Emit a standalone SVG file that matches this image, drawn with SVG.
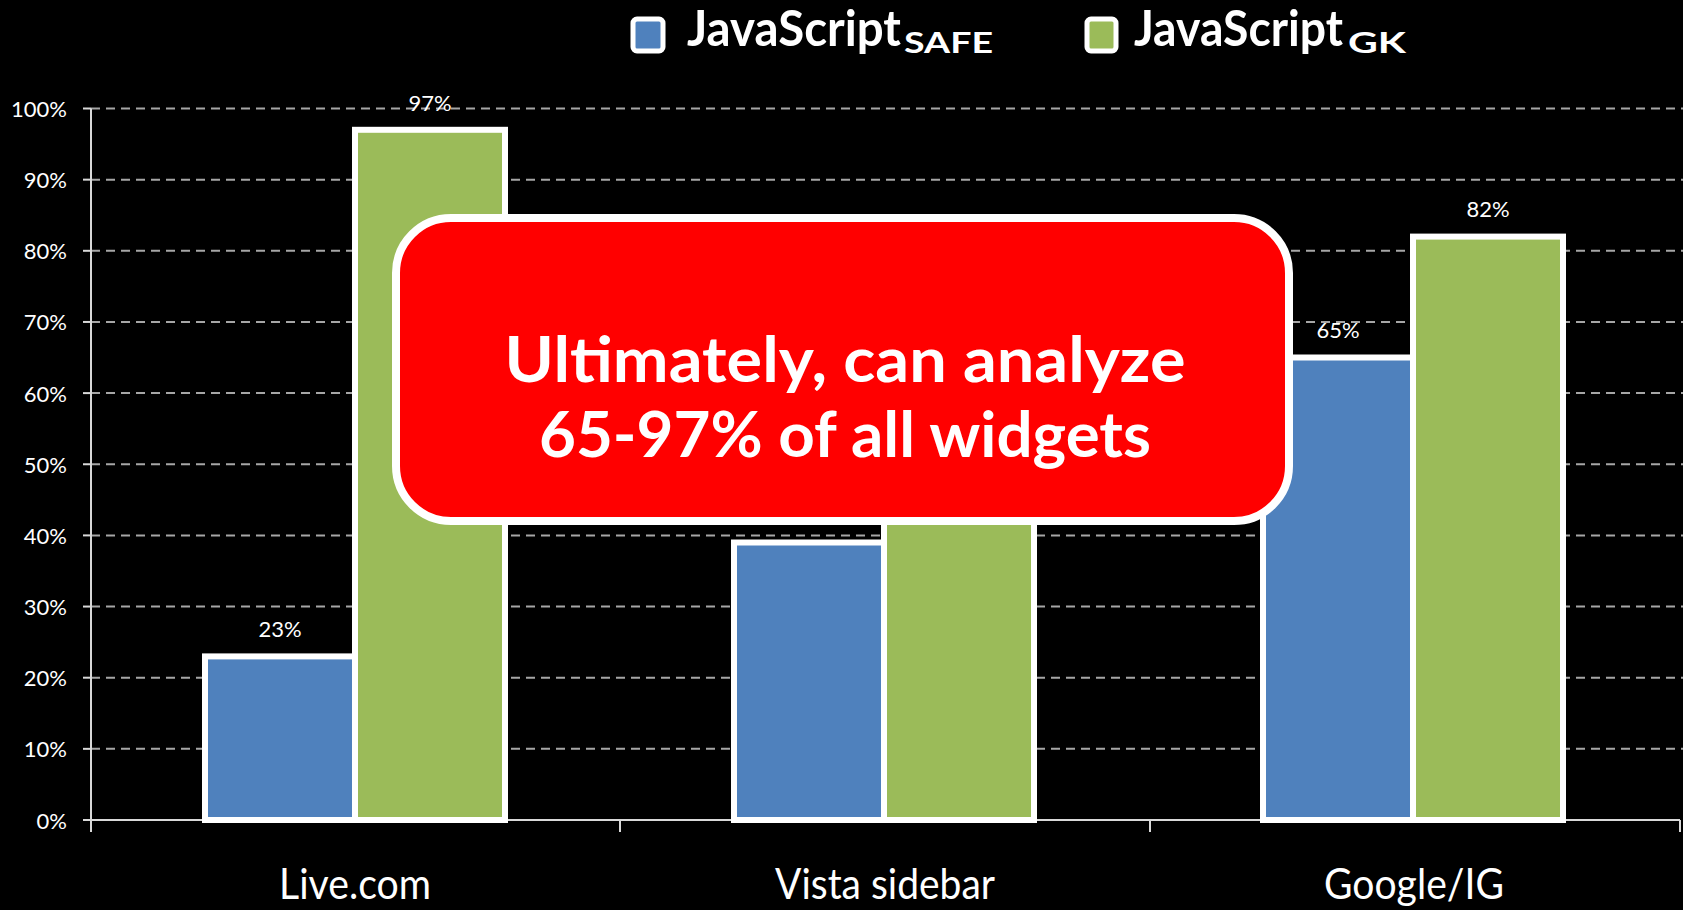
<svg xmlns="http://www.w3.org/2000/svg" width="1683" height="910" viewBox="0 0 1683 910">
  <style>
    .grid { stroke: #A6A6A6; stroke-width: 2; stroke-dasharray: 9 6; fill: none; }
    .axis { stroke: #D9D9D9; stroke-width: 2; fill: none; }
    .ylab { font-family: Lato, "Liberation Sans", sans-serif; font-size: 22px; fill: #FFFFFF; text-anchor: end; dominant-baseline: central; }
    .val { font-family: Lato, "Liberation Sans", sans-serif; font-size: 22px; fill: #FFFFFF; text-anchor: middle; }
    .cat { font-family: Lato, "Liberation Sans", sans-serif; font-size: 42px; fill: #FFFFFF; text-anchor: middle; }
    .blue { fill: #4F81BD; stroke: #FFFFFF; stroke-width: 6; }
    .green { fill: #9BBB59; stroke: #FFFFFF; stroke-width: 6; }
    .leg { font-family: Lato, "Liberation Sans", sans-serif; font-weight: bold; fill: #FFFFFF; font-size: 50px; }
    .sub { font-family: Lato, "Liberation Sans", sans-serif; font-weight: bold; fill: #FFFFFF; font-size: 29px; }
    .call { font-family: Lato, "Liberation Sans", sans-serif; font-weight: bold; font-size: 63px; fill: #FFFFFF; text-anchor: middle; }
  </style>
  <rect x="0" y="0" width="1683" height="910" fill="#000000"/>

  <g id="gridlines">
    <line class="grid" x1="91" y1="108.5" x2="1683" y2="108.5"/>
    <line class="grid" x1="91" y1="179.65" x2="1683" y2="179.65"/>
    <line class="grid" x1="91" y1="250.8" x2="1683" y2="250.8"/>
    <line class="grid" x1="91" y1="321.95" x2="1683" y2="321.95"/>
    <line class="grid" x1="91" y1="393.1" x2="1683" y2="393.1"/>
    <line class="grid" x1="91" y1="464.25" x2="1683" y2="464.25"/>
    <line class="grid" x1="91" y1="535.4" x2="1683" y2="535.4"/>
    <line class="grid" x1="91" y1="606.55" x2="1683" y2="606.55"/>
    <line class="grid" x1="91" y1="677.7" x2="1683" y2="677.7"/>
    <line class="grid" x1="91" y1="748.85" x2="1683" y2="748.85"/>
  </g>

  <g id="axes">
    <line class="axis" x1="91" y1="108.5" x2="91" y2="832"/>
    <line class="axis" x1="83" y1="820" x2="1680" y2="820"/>
    <line class="axis" x1="620" y1="820" x2="620" y2="832"/>
    <line class="axis" x1="1150" y1="820" x2="1150" y2="832"/>
    <line class="axis" x1="1680" y1="820" x2="1680" y2="832"/>
    <line class="axis" x1="83" y1="108.5" x2="91" y2="108.5"/>
    <line class="axis" x1="83" y1="179.65" x2="91" y2="179.65"/>
    <line class="axis" x1="83" y1="250.8" x2="91" y2="250.8"/>
    <line class="axis" x1="83" y1="321.95" x2="91" y2="321.95"/>
    <line class="axis" x1="83" y1="393.1" x2="91" y2="393.1"/>
    <line class="axis" x1="83" y1="464.25" x2="91" y2="464.25"/>
    <line class="axis" x1="83" y1="535.4" x2="91" y2="535.4"/>
    <line class="axis" x1="83" y1="606.55" x2="91" y2="606.55"/>
    <line class="axis" x1="83" y1="677.7" x2="91" y2="677.7"/>
    <line class="axis" x1="83" y1="748.85" x2="91" y2="748.85"/>
  </g>

  <g id="y-labels">
    <text class="ylab" x="67" y="108.5">100%</text>
    <text class="ylab" x="67" y="179.65">90%</text>
    <text class="ylab" x="67" y="250.8">80%</text>
    <text class="ylab" x="67" y="321.95">70%</text>
    <text class="ylab" x="67" y="393.1">60%</text>
    <text class="ylab" x="67" y="464.25">50%</text>
    <text class="ylab" x="67" y="535.4">40%</text>
    <text class="ylab" x="67" y="606.55">30%</text>
    <text class="ylab" x="67" y="677.7">20%</text>
    <text class="ylab" x="67" y="748.85">10%</text>
    <text class="ylab" x="67" y="820">0%</text>
  </g>

  <g id="bars-live">
    <rect class="blue" x="205" y="656.4" width="150" height="163.6"/>
    <rect class="green" x="355" y="129.8" width="150" height="690.2"/>
    <text class="val" x="280" y="637">23%</text>
    <text class="val" x="430" y="111">97%</text>
  </g>
  <g id="bars-vista">
    <rect class="blue" x="734" y="542.5" width="150" height="277.5"/>
    <rect class="green" x="884" y="428.7" width="150" height="391.3"/>
  </g>
  <g id="bars-google">
    <rect class="blue" x="1263" y="357.5" width="150" height="462.5"/>
    <rect class="green" x="1413" y="236.6" width="150" height="583.4"/>
    <text class="val" x="1338" y="338">65%</text>
    <text class="val" x="1488" y="217">82%</text>
  </g>

  <g id="categories">
    <text class="cat" x="355" y="899" textLength="152" lengthAdjust="spacingAndGlyphs">Live.com</text>
    <text class="cat" x="885" y="899" textLength="220" lengthAdjust="spacingAndGlyphs">Vista sidebar</text>
    <text class="cat" x="1414" y="899" textLength="180" lengthAdjust="spacingAndGlyphs">Google/IG</text>
  </g>

  <g id="legend">
    <rect x="633" y="19" width="30" height="32" rx="4" fill="#4F81BD" stroke="#FFFFFF" stroke-width="5"/>
    <text class="leg" x="687" y="46" textLength="214" lengthAdjust="spacingAndGlyphs">JavaScript</text>
    <text class="sub" x="904" y="53" textLength="89" lengthAdjust="spacingAndGlyphs">SAFE</text>
    <rect x="1087" y="19" width="29" height="32" rx="4" fill="#9BBB59" stroke="#FFFFFF" stroke-width="5"/>
    <text class="leg" x="1134" y="46" textLength="209" lengthAdjust="spacingAndGlyphs">JavaScript</text>
    <text class="sub" x="1348" y="53" textLength="58" lengthAdjust="spacingAndGlyphs">GK</text>
  </g>

  <g id="callout">
    <rect x="396" y="218" width="893" height="303" rx="55" ry="55" fill="#FF0000" stroke="#FFFFFF" stroke-width="8"/>
    <text class="call" x="845" y="382" textLength="681" lengthAdjust="spacingAndGlyphs">Ultimately, can analyze</text>
    <text class="call" x="845" y="457" textLength="612" lengthAdjust="spacingAndGlyphs">65-97% of all widgets</text>
  </g>
</svg>
